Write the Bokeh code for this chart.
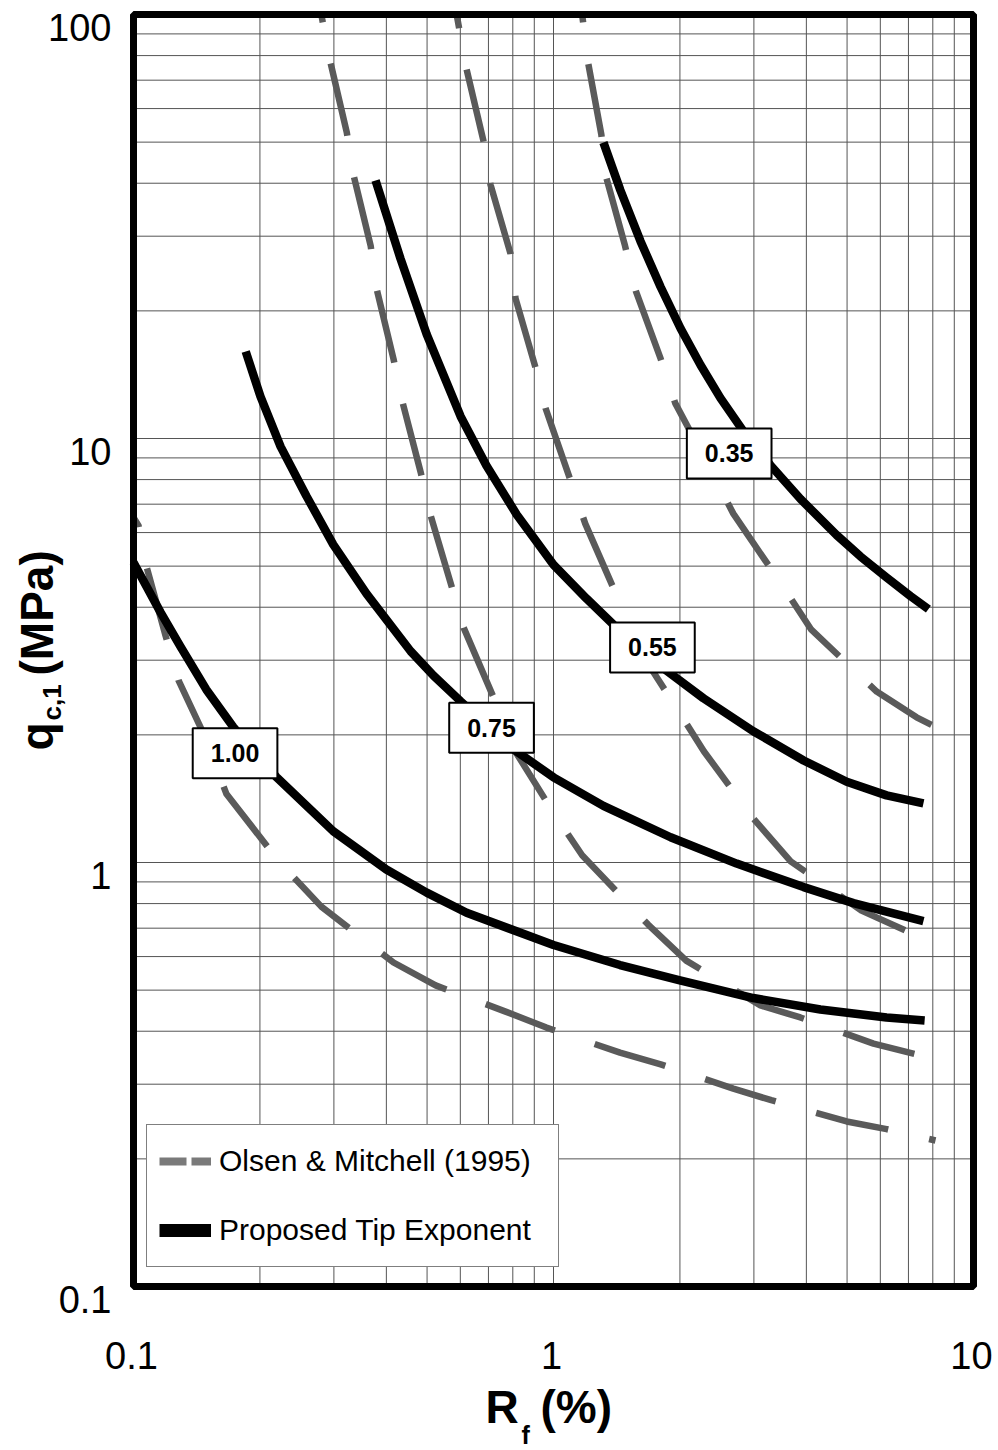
import math
import numpy as np
from bokeh.plotting import figure
from bokeh.models import Label, LabelSet, ColumnDataSource, Legend, LegendItem
from bokeh.core.properties import value, field
from bokeh.embed import file_html
from bokeh.resources import INLINE

# ---------------- data (Rf in %, qc1 in MPa) ----------------
# Proposed tip exponent curves
prop_035_rf = [1.315, 1.443, 1.611, 1.798, 2.006, 2.239, 2.498, 2.834, 3.285, 3.874, 4.72, 5.38, 6.21, 7.08, 7.81]
prop_035_qc = [49.9, 38.5, 29.2, 22.8, 18.2, 14.9, 12.45, 10.39, 8.65, 7.20, 5.92, 5.27, 4.70, 4.25, 3.96]

prop_055_rf = [0.377, 0.432, 0.499, 0.601, 0.692, 0.817, 1.00, 1.199, 1.389, 1.611, 1.828, 2.275, 2.99, 3.94, 4.99, 6.21, 7.60]
prop_055_qc = [40.6, 26.6, 17.6, 11.27, 8.64, 6.62, 5.04, 4.19, 3.64, 3.20, 2.87, 2.44, 2.04, 1.74, 1.55, 1.44, 1.378]

prop_075_rf = [0.185, 0.2006, 0.224, 0.258, 0.299, 0.359, 0.457, 0.518, 0.601, 0.803, 1.00, 1.315, 1.90, 2.73, 3.94, 5.18, 7.60]
prop_075_qc = [16.04, 12.56, 9.57, 7.32, 5.62, 4.30, 3.15, 2.76, 2.40, 1.85, 1.588, 1.36, 1.147, 0.994, 0.875, 0.802, 0.727]

prop_100_rf = [0.100, 0.116, 0.1294, 0.149, 0.173, 0.219, 0.299, 0.400, 0.499, 0.621, 1.00, 1.44, 2.00, 2.99, 4.32, 6.21, 7.65]
prop_100_qc = [5.10, 3.89, 3.23, 2.56, 2.085, 1.59, 1.185, 0.963, 0.849, 0.761, 0.639, 0.573, 0.527, 0.479, 0.450, 0.431, 0.424]

# Olsen & Mitchell (1995) curves
om_1_rf = [0.280, 0.294, 0.322, 0.334, 0.367, 0.379, 0.416, 0.435, 0.483, 0.510, 0.572, 0.611, 0.720, 0.816, 1.00, 1.17, 1.68, 2.07, 3.11, 3.87, 5.78, 7.28, 8.12]
om_1_qc = [100, 77.5, 52.7, 41.9, 28.5, 22.6, 15.4, 12.4, 8.31, 6.58, 4.48, 3.58, 2.45, 1.81, 1.31, 1.04, 0.714, 0.587, 0.460, 0.431, 0.374, 0.353, 0.345]

om_2_rf = [0.588, 0.621, 0.681, 0.708, 0.790, 0.812, 0.906, 0.957, 1.10, 1.19, 1.41, 1.73, 1.96, 2.28, 2.99, 3.67, 5.41, 6.89, 8.03]
om_2_qc = [100, 74.2, 50.4, 39.7, 27.3, 21.4, 14.7, 11.8, 7.92, 6.30, 4.29, 2.81, 2.32, 1.83, 1.27, 1.006, 0.770, 0.691, 0.662]

om_3_rf = [1.17, 1.21, 1.30, 1.33, 1.48, 1.57, 1.80, 1.95, 2.15, 2.68, 3.49, 4.11, 5.88, 7.32, 8.03]
om_3_qc = [100, 76.6, 52.1, 41.9, 28.5, 22.3, 15.4, 12.1, 10.1, 6.65, 4.53, 3.54, 2.53, 2.20, 2.10]

om_4_rf = [0.100, 0.1028, 0.1074, 0.1192, 0.128, 0.1452, 0.1665, 0.224, 0.280, 0.416, 0.524, 0.769, 0.962, 1.44, 1.80, 2.68, 3.30, 4.99, 6.21, 8.12]
om_4_qc = [6.51, 6.23, 4.99, 3.43, 2.69, 2.06, 1.45, 0.995, 0.787, 0.581, 0.513, 0.445, 0.408, 0.356, 0.334, 0.293, 0.275, 0.245, 0.235, 0.221]

# curve labels (tip exponent) and where they sit
exponent_text = ["0.35", "0.55", "0.75", "1.00"]
exponent_rf = [2.62, 1.72, 0.712, 0.1745]
exponent_qc = [9.22, 3.215, 2.08, 1.81]

x_ticks = [0.1, 1, 10]
x_tick_labels = ["0.1", "1", "10"]
y_ticks = [0.1, 1, 10, 100]
y_tick_labels = ["0.1", "1", "10", "100"]

legend_labels = ["Olsen & Mitchell (1995)", "Proposed Tip Exponent"]

# axis titles split into normal text and subscript pieces
x_title_parts = ["R", "f", "(%)"]
y_title_parts = ["q", "c,1", "(MPa)"]

# ---------------- layout (pixels) ----------------
W, H = 998, 1450
BOX_L, BOX_R, BOX_T, BOX_B = 133, 973, 14, 1286
FONT = "Liberation Sans"
GRID = "#555555"
DASH_COLOR = "#5a5a5a"

# the canvas-wide frame extends beyond the chart box so that the tick
# labels and the axis titles (with subscripts) can be placed as text
px_dec_x = (BOX_R - BOX_L) / math.log10(x_ticks[-1] / x_ticks[0])
px_dec_y = (BOX_B - BOX_T) / math.log10(y_ticks[-1] / y_ticks[0])
x_rng = (x_ticks[0] * 10 ** (-BOX_L / px_dec_x), x_ticks[-1] * 10 ** ((W - BOX_R) / px_dec_x))
y_rng = (y_ticks[0] * 10 ** (-(H - BOX_B) / px_dec_y), y_ticks[-1] * 10 ** (BOX_T / px_dec_y))

p = figure(width=W, height=H, x_axis_type="log", y_axis_type="log",
           x_range=x_rng, y_range=y_rng,
           x_axis_location=None, y_axis_location=None,
           output_backend="svg", toolbar_location=None, min_border=0)
p.background_fill_color = "white"
p.border_fill_color = "white"
p.outline_line_color = None
for g in p.grid:
    g.visible = False

# grid (major + minor) inside the box
x_minor = [m * 10.0 ** k for k in (-1, 0) for m in range(2, 10)]
y_minor = [m * 10.0 ** k for k in (-1, 0, 1) for m in range(2, 10)]
xg = x_ticks + x_minor
yg = y_ticks + y_minor
p.segment(x0=xg, y0=[y_ticks[0]] * len(xg), x1=xg, y1=[y_ticks[-1]] * len(xg),
          line_color=GRID, line_width=1)
p.segment(x0=[x_ticks[0]] * len(yg), y0=yg, x1=[x_ticks[-1]] * len(yg), y1=yg,
          line_color=GRID, line_width=1)

# ---------------- curves ----------------
om_curves = [(om_1_rf, om_1_qc, 66), (om_2_rf, om_2_qc, 60),
             (om_3_rf, om_3_qc, 66), (om_4_rf, om_4_qc, 63)]
for rf, qc, off in om_curves:
    p.line(rf, qc, line_color=DASH_COLOR, line_width=6.5, line_dash="74 42",
           line_dash_offset=off, line_cap="butt", line_join="round")

prop_curves = [(prop_035_rf, prop_035_qc), (prop_055_rf, prop_055_qc),
               (prop_075_rf, prop_075_qc), (prop_100_rf, prop_100_qc)]
for rf, qc in prop_curves:
    p.line(rf, qc, line_color="black", line_width=8.5, line_cap="butt", line_join="round")

# chart box
p.quad(left=[x_ticks[0]], right=[x_ticks[-1]], bottom=[y_ticks[0]], top=[y_ticks[-1]],
       fill_color=None, line_color="black", line_width=7)

# ---------------- tick labels ----------------
p.add_layout(LabelSet(x="x", y="y", text="text",
                      source=ColumnDataSource(dict(x=x_ticks, y=[y_ticks[0]] * len(x_ticks),
                                                   text=x_tick_labels)),
                      x_offset=-2, y_offset=-82, text_align="center",
                      text_baseline="alphabetic", text_font=value(FONT),
                      text_font_size="38px", text_color="black"))
p.add_layout(LabelSet(x="x", y="y", text="text",
                      source=ColumnDataSource(dict(x=[x_ticks[0]] * len(y_ticks), y=y_ticks,
                                                   text=y_tick_labels)),
                      x_offset=-22, y_offset=-26, text_align="right",
                      text_baseline="alphabetic", text_font=value(FONT),
                      text_font_size="38px", text_color="black"))

# ---------------- boxed exponent labels ----------------
for t, xr, yq in zip(exponent_text, exponent_rf, exponent_qc):
    p.add_layout(Label(x=xr, y=yq, text=t, text_font=FONT, text_font_style="bold",
                       text_font_size="25px", text_align="center", text_baseline="middle",
                       text_color="black", background_fill_color="white",
                       background_fill_alpha=1.0, border_line_color="black",
                       border_line_width=2, padding=dict(x=18, y=16)))

# ---------------- legend ----------------
nan1 = np.array([np.nan])
leg_om = p.line(nan1, nan1, line_color="#7a7a7a", line_width=8, line_dash="27 5", line_cap="butt")
leg_pt = p.line(nan1, nan1, line_color="black", line_width=13, line_cap="butt")
legend = Legend(items=[LegendItem(label=legend_labels[0], renderers=[leg_om]),
                       LegendItem(label=legend_labels[1], renderers=[leg_pt])],
                location=(146, H - 1267), margin=0, padding=12, spacing=21,
                glyph_width=52, glyph_height=20, label_standoff=8,
                label_height=48, label_width=327,
                label_text_font=FONT, label_text_font_size="30px",
                label_text_color="black",
                border_line_color="black", border_line_width=1.5,
                background_fill_color="white", background_fill_alpha=1.0)
p.add_layout(legend)

# ---------------- axis titles (with subscripts) ----------------
# offsets in pixels from the lower-left corner of the chart box
x_title_src = ColumnDataSource(dict(
    x=[x_ticks[0]] * 3, y=[y_ticks[0]] * 3, text=x_title_parts,
    dx=[352, 388, 407], dy=[-136, -157, -136], size=["46px", "25px", "46px"]))
y_title_src = ColumnDataSource(dict(
    x=[x_ticks[0]] * 3, y=[y_ticks[0]] * 3, text=y_title_parts,
    dx=[-81, -73, -81], dy=[536, 566, 611], size=["46px", "26px", "46px"]))
for src, ang in ((x_title_src, 0.0), (y_title_src, math.pi / 2)):
    p.add_layout(LabelSet(x="x", y="y", text="text", source=src,
                          x_offset="dx", y_offset="dy", angle=ang,
                          text_align="left", text_baseline="alphabetic",
                          text_font=value(FONT), text_font_style=value("bold"),
                          text_font_size=field("size"), text_color="black"))

open("out.html", "w").write(file_html(p, INLINE))
